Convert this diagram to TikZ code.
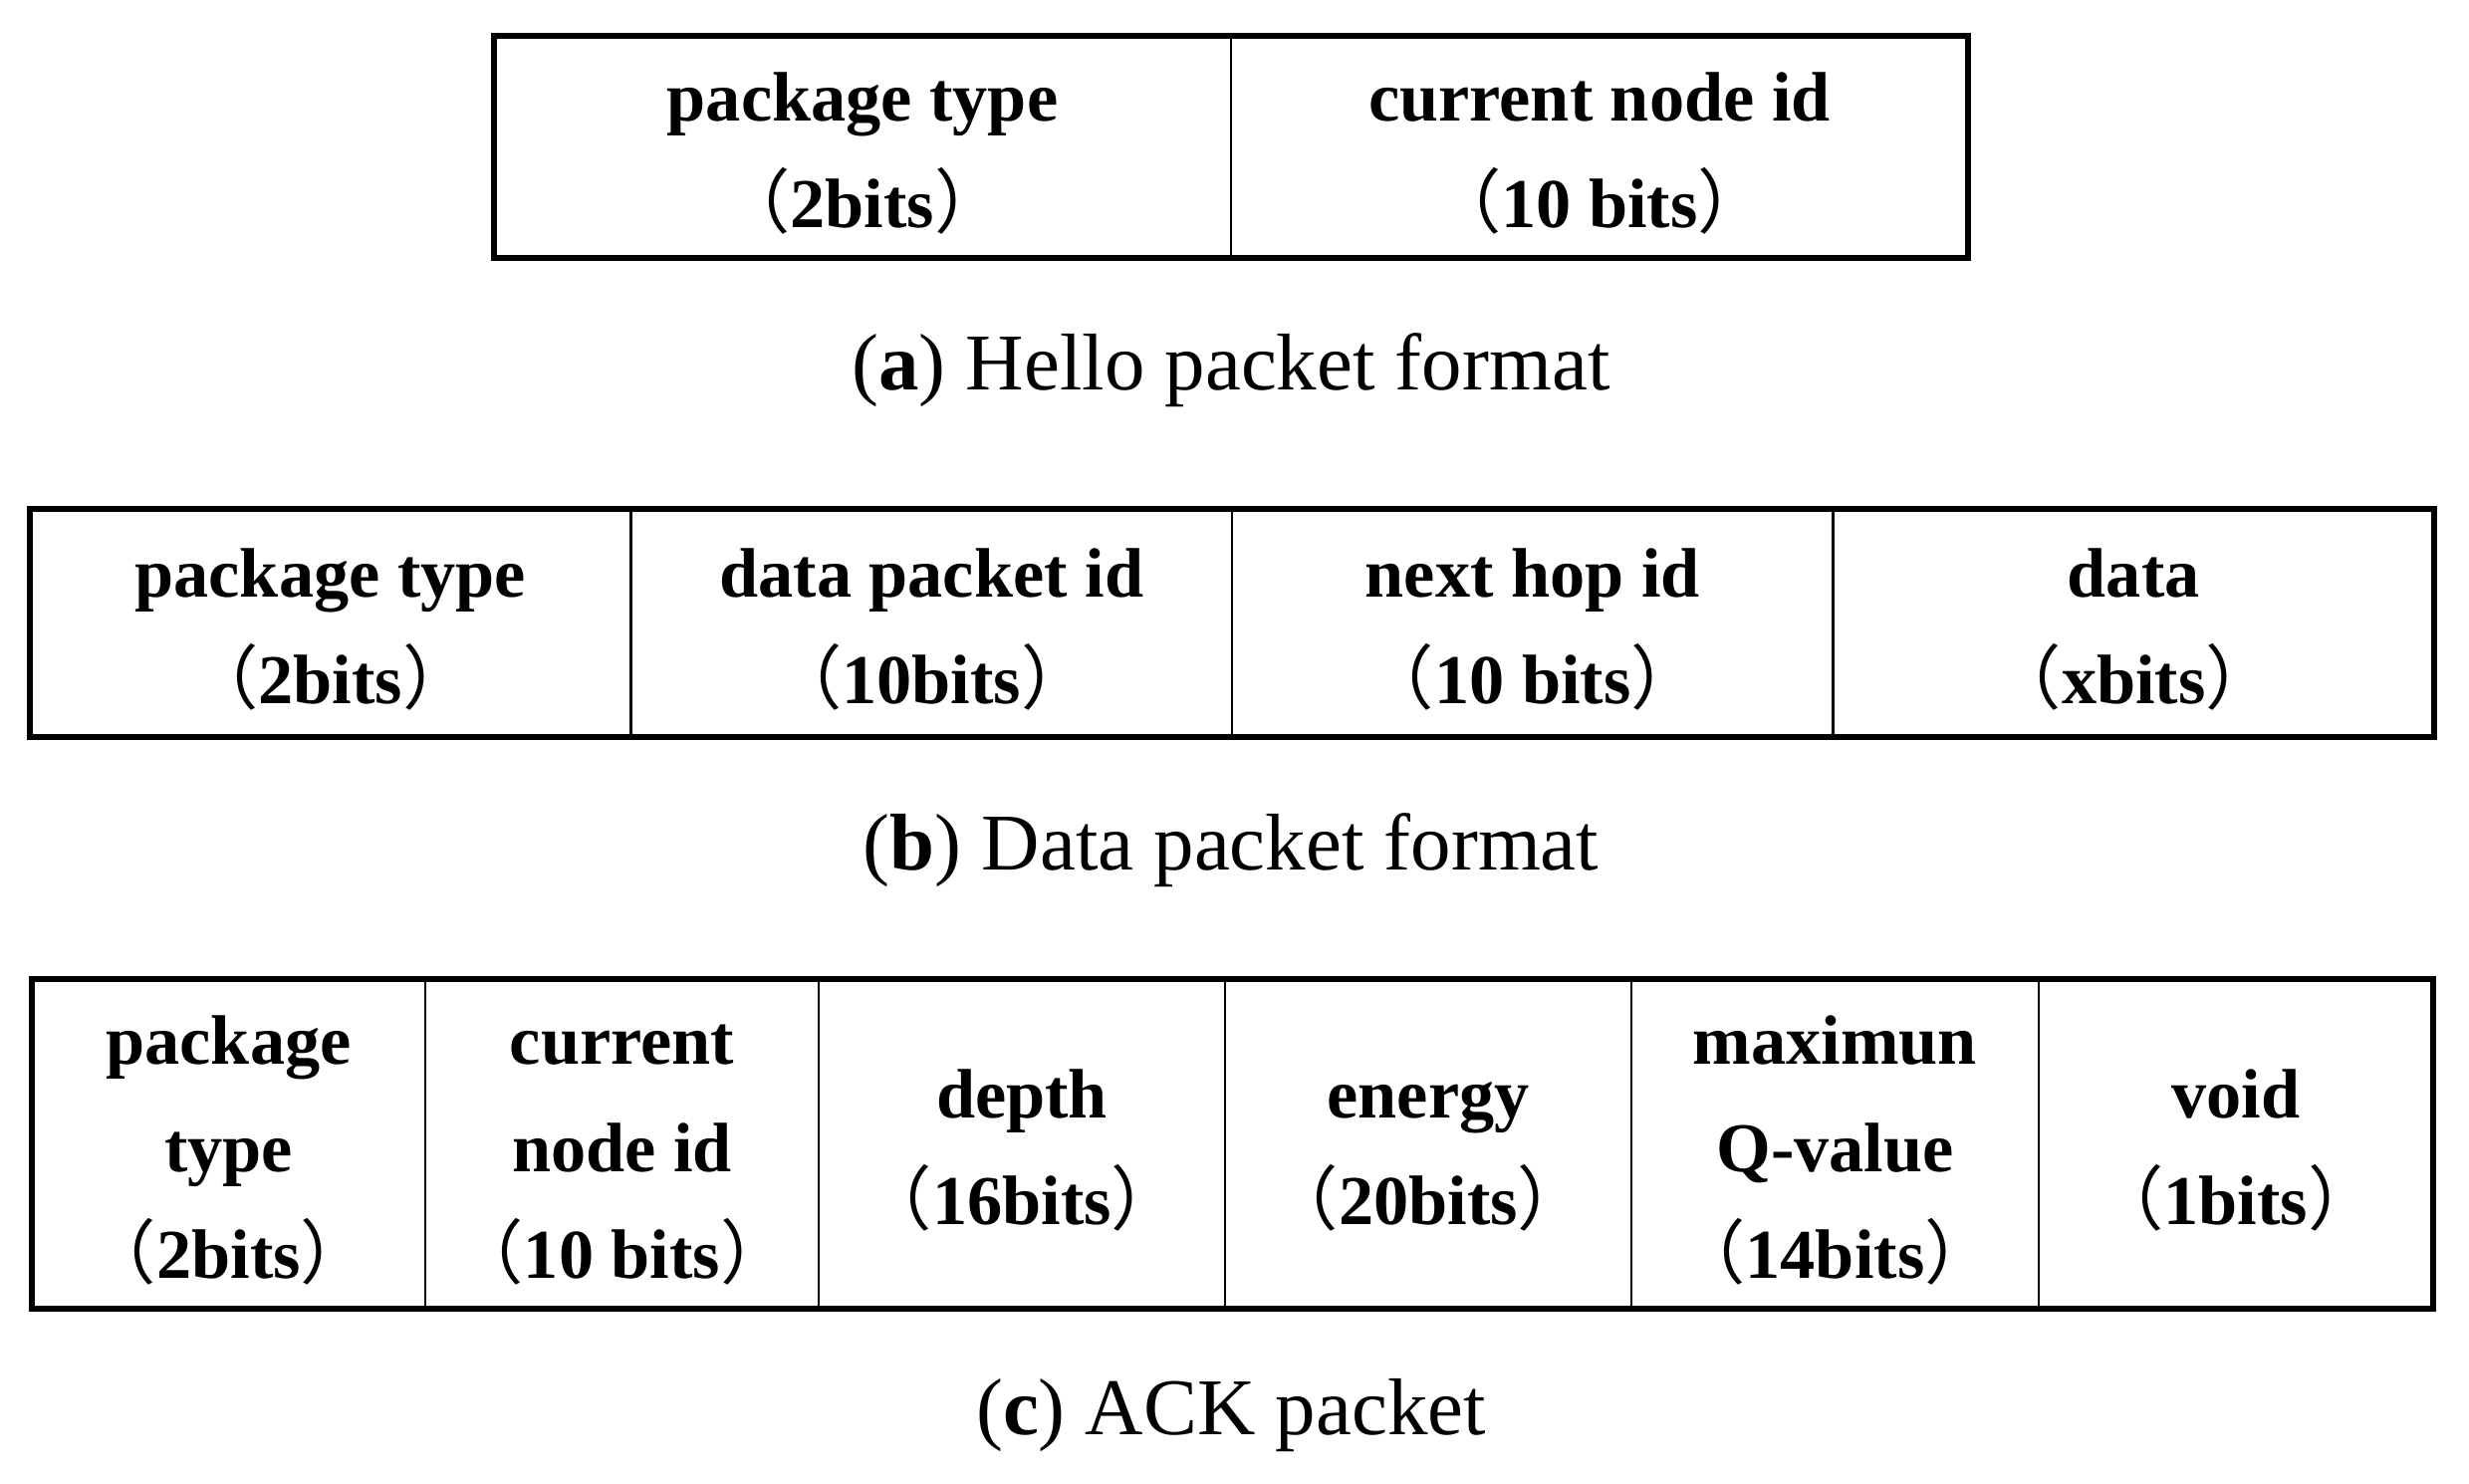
\documentclass[tikz,border=0pt]{standalone}
\usepackage{fontspec}
\setmainfont{Liberation Serif}
\newfontfamily\cjk{Noto Sans CJK SC}
\usepackage{tikz}
\usetikzlibrary{positioning}
\newcommand{\fwbits}[1]{{\cjk\mdseries （}#1{\cjk\mdseries ）}}
\newcommand{\cellstrut}{\rule{0pt}{0.62cm}}

\begin{document}
\begin{tikzpicture}[
    cell/.style={draw,line width=0.8pt,inner sep=0pt,outer sep=0pt,align=center,
        font=\fontsize{20}{30.5}\selectfont\bfseries},
    frame/.style={line width=1.6pt},
    caption/.style={font=\fontsize{23}{28}\selectfont}
]
    \useasboundingbox (0,0) rectangle (24.79,-14.90);
    % Hello packet
    \begin{scope}[every node/.append style={minimum height=2.23cm}]
    \node[cell,minimum width=7.4cm] (h1) at (8.66,-1.475) {\cellstrut package type\\\fwbits{2bits}};
    \node[cell,minimum width=7.4cm,right=0pt of h1] (h2) {\cellstrut current node id\\\fwbits{10 bits}};
    \end{scope}
    \draw[frame] (h1.north west) rectangle (h2.south east);
    \node[caption] (capa) at (12.36,-3.72) {(\textbf{a}) Hello packet format};
    % Data packet
    \begin{scope}[every node/.append style={minimum height=2.29cm,minimum width=6.035cm}]
    \node[cell] (d1) at (3.3175,-6.255) {\cellstrut package type\\\fwbits{2bits}};
    \node[cell,right=0pt of d1] (d2) {\cellstrut data packet id\\\fwbits{10bits}};
    \node[cell,right=0pt of d2] (d3) {\cellstrut next hop id\\\fwbits{10 bits}};
    \node[cell,right=0pt of d3] (d4) {\cellstrut data\\\fwbits{xbits}};
    \end{scope}
    \draw[frame] (d1.north west) rectangle (d4.south east);
    \node[caption] (capb) at (12.36,-8.54) {(\textbf{b}) Data packet format};
    % ACK packet
    \begin{scope}[every node/.append style={minimum height=3.31cm}]
    \node[cell,minimum width=3.95cm] (k1) at (2.295,-11.485) {\cellstrut package\\type\\\fwbits{2bits}};
    \node[cell,minimum width=3.95cm,right=0pt of k1] (k2) {\cellstrut current\\node id\\\fwbits{10 bits}};
    \node[cell,minimum width=4.08cm,right=0pt of k2] (k3) {\cellstrut depth\\\fwbits{16bits}};
    \node[cell,minimum width=4.08cm,right=0pt of k3] (k4) {\cellstrut energy\\\fwbits{20bits}};
    \node[cell,minimum width=4.09cm,right=0pt of k4] (k5) {\cellstrut maximun\\Q-value\\\fwbits{14bits}};
    \node[cell,minimum width=3.96cm,right=0pt of k5] (k6) {\cellstrut void\\\fwbits{1bits}};
    \end{scope}
    \draw[frame] (k1.north west) rectangle (k6.south east);
    \node[caption] (capc) at (12.36,-14.21) {(\textbf{c}) ACK packet};
\end{tikzpicture}
\end{document}
